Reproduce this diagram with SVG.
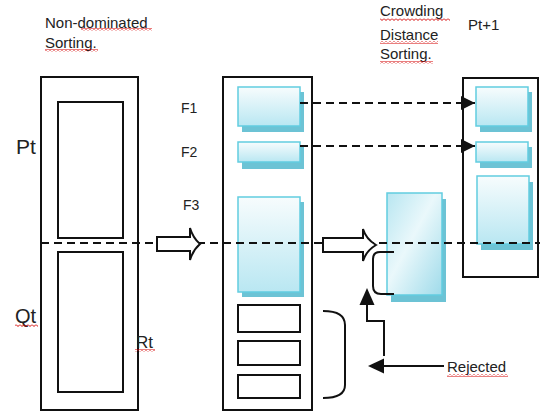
<svg xmlns="http://www.w3.org/2000/svg" width="540" height="412" viewBox="0 0 540 412">
<style>
.frame{fill:none;stroke:#111;stroke-width:2}
.plain{fill:#fff;stroke:#111;stroke-width:2}
.box{fill:url(#cyan);stroke:#62cde0;stroke-width:1.5}
.shadow{fill:#6cc3d5}
.lbl{font-family:"Liberation Sans",Arial,sans-serif;fill:#222}
.dash{stroke:#111;stroke-width:2;stroke-dasharray:8,5;fill:none}
.line{stroke:#111;stroke-width:2;fill:none}
.block{fill:#fff;stroke:#111;stroke-width:2}
.sq{fill:url(#squig)}
</style>
<defs>
<linearGradient id="cyan" x1="0" y1="0" x2="0" y2="1">
<stop offset="0" stop-color="#f7fcfd"/>
<stop offset="1" stop-color="#b9e7f2"/>
</linearGradient>
<linearGradient id="cyan2" x1="0" y1="0" x2="1" y2="1">
<stop offset="0" stop-color="#b8e6f1"/>
<stop offset="0.45" stop-color="#eaf8fb"/>
<stop offset="1" stop-color="#9fdbea"/>
</linearGradient>
<pattern id="squig" width="4" height="3" patternUnits="userSpaceOnUse">
<path d="M0 0.5 L2 2.5 L4 0.5" stroke="#d40000" stroke-width="1" fill="none"/>
</pattern>
<marker id="ah" markerWidth="14" markerHeight="14" refX="14" refY="7" orient="auto" markerUnits="userSpaceOnUse">
<path d="M0,0 L14,7 L0,14 Z" fill="#111"/>
</marker>
</defs>
<rect width="540" height="412" fill="#fff"/>

<g id="title-nds">
<text class="lbl" x="45" y="28" font-size="15">Non-dominated</text>
<text class="lbl" x="45" y="48" font-size="15">Sorting.</text>
<rect class="sq" x="81" y="28" width="71" height="3"/>
<rect class="sq" x="45" y="49" width="53" height="3"/>
</g>
<g id="title-cds">
<text class="lbl" x="380" y="16" font-size="15">Crowding</text>
<text class="lbl" x="380" y="40" font-size="15">Distance</text>
<text class="lbl" x="380" y="59" font-size="15">Sorting.</text>
<rect class="sq" x="380" y="18" width="70" height="3"/>
<rect class="sq" x="380" y="41" width="58" height="3"/>
<rect class="sq" x="380" y="61" width="53" height="3"/>
</g>
<g id="title-pt1">
<text class="lbl" x="468" y="30" font-size="15">Pt+1</text>
</g>

<g id="Rt">
<rect class="frame" x="41" y="77" width="97" height="333"/>
<rect class="frame" x="58" y="102" width="65" height="136"/>
<rect class="frame" x="58" y="252" width="65" height="140"/>
<text class="lbl" x="16" y="154" font-size="21">Pt</text>
<text class="lbl" x="15" y="323" font-size="20">Qt</text>
<rect class="sq" x="15" y="324" width="23" height="3"/>
<text class="lbl" x="136" y="348" font-size="17">Rt</text>
<rect class="sq" x="135" y="349" width="20" height="3"/>
</g>

<g id="fronts">
<rect class="frame" x="223" y="77" width="89" height="333"/>
<rect class="shadow" x="242" y="92" width="62" height="40"/>
<rect class="box" x="238" y="87" width="62" height="39"/>
<rect class="shadow" x="242" y="147" width="62" height="22"/>
<rect class="box" x="238" y="142" width="62" height="20"/>
<rect class="shadow" x="242" y="202" width="62" height="95"/>
<rect class="box" x="238" y="197" width="62" height="95"/>
<rect class="plain" x="238" y="305" width="62" height="27"/>
<rect class="plain" x="238" y="341" width="62" height="24"/>
<rect class="plain" x="238" y="375" width="62" height="23"/>
<text class="lbl" x="181" y="113" font-size="14">F1</text>
<text class="lbl" x="181" y="157" font-size="14">F2</text>
<text class="lbl" x="183" y="210" font-size="14">F3</text>
</g>

<g id="crowding">
<rect class="shadow" x="391" y="199" width="55" height="103"/>
<rect x="387" y="193" width="55" height="102" fill="url(#cyan2)" stroke="#62cde0" stroke-width="1.5"/>
</g>

<g id="Pt1">
<rect class="frame" x="463" y="78" width="75" height="199"/>
<rect class="shadow" x="480" y="92" width="52" height="40"/>
<rect class="box" x="476" y="87" width="52" height="39"/>
<rect class="shadow" x="480" y="147" width="52" height="21"/>
<rect class="box" x="476" y="142" width="52" height="20"/>
<rect class="shadow" x="481" y="182" width="52" height="68"/>
<rect class="box" x="477" y="176" width="52" height="68"/>
</g>

<g id="rejected">
<text class="lbl" x="447" y="372" font-size="15">Rejected</text>
<rect class="sq" x="447" y="374" width="61" height="3"/>
</g>

<g id="connectors">
<line class="dash" x1="41" y1="243" x2="540" y2="243"/>
<line class="dash" x1="300" y1="103" x2="475" y2="103" marker-end="url(#ah)"/>
<line class="dash" x1="300" y1="146" x2="475" y2="146" marker-end="url(#ah)"/>
<path class="block" d="M157,237 H190 V228 Q193,238 200,244 Q193,250 190,260 V251 H157 Z"/>
<path class="block" d="M323,238 H363 V229 Q366,239 376,245 Q366,251 363,261 V252 H323 Z"/>
<path class="line" d="M394,252 H380 Q373,252 373,259 V286 Q373,294 381,294 H394"/>
<path class="line" d="M323,311 Q345,311 345,325 V385 Q345,398 323,398"/>
<path class="line" d="M384,356 V321 H367 V300"/>
<path d="M367,288 L374.5,305 L359.5,305 Z" fill="#111"/>
<line class="line" x1="444" y1="366" x2="380" y2="366"/>
<path d="M368,366 L384,358.5 L384,373.5 Z" fill="#111"/>
</g>
</svg>
